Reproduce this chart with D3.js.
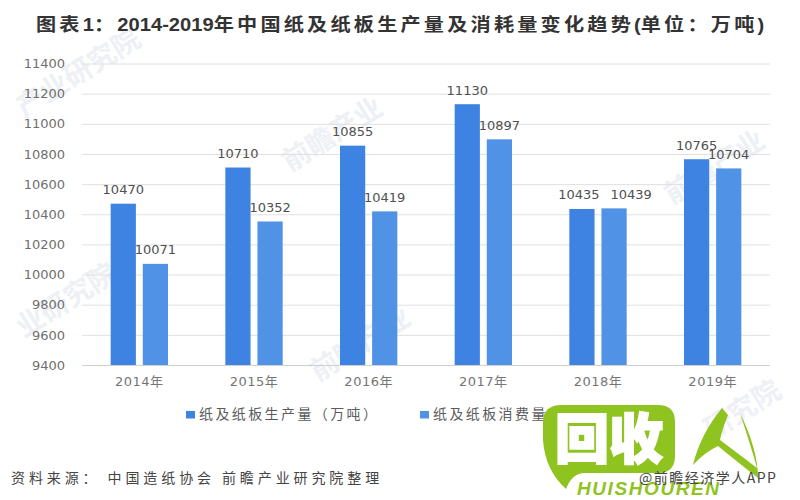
<!DOCTYPE html>
<html>
<head>
<meta charset="utf-8">
<script src="https://cdn.jsdelivr.net/npm/d3@7"></script>
<style>
  html, body { margin: 0; padding: 0; background: #fff; }
  text { font-family: "DejaVu Sans", "Noto Sans CJK SC", sans-serif; }
  .cjk { font-family: "Noto Sans CJK SC", sans-serif; }
</style>
</head>
<body>
<div id="chart"></div>
<script>
// chart values
var years = ["2014年", "2015年", "2016年", "2017年", "2018年", "2019年"];
var production = [10470, 10710, 10855, 11130, 10435, 10765];
var consumption = [10071, 10352, 10419, 10897, 10439, 10704];
var yTicks = [9400, 9600, 9800, 10000, 10200, 10400, 10600, 10800, 11000, 11200, 11400];
var seriesNames = ["纸及纸板生产量（万吨）", "纸及纸板消费量（万吨）"];
var seriesColors = ["#3f83e2", "#5093e6"];
var titleParts = ["图表", "1", "：", "2014-2019", "年中国纸及纸板生产量及消耗量变化趋势", "(", "单位：万吨", ")"];
var sourceText = "资料来源： 中国造纸协会 前瞻产业研究院整理";
var creditText = "@前瞻经济学人APP";
var watermarks = ["产业研究院", "前瞻产业", "前瞻产业", "业研究院", "前瞻产业", "研究院"];

var margin = { top: 63.5, right: 30, bottom: 135, left: 82 },
  width = 800 - margin.left - margin.right,
  height = 500 - margin.top - margin.bottom;

var svg = d3.select("#chart")
  .append("svg")
  .attr("width", 800)
  .attr("height", 500)
  .style("display", "block");

// faint watermarks behind the chart
var markPos = [[24, 118], [290, 172], [672, 205], [24, 338], [318, 382], [712, 440]];
svg.append("g")
  .selectAll("text")
  .data(watermarks)
  .enter().append("text")
  .attr("class", "cjk")
  .attr("transform", function (d, i) { return "translate(" + markPos[i] + ") rotate(-32)"; })
  .attr("font-size", 28)
  .attr("font-weight", "bold")
  .attr("fill", "#edf0f4")
  .text(function (d) { return d; });

var chart = svg.append("g")
  .attr("transform", "translate(" + margin.left + "," + margin.top + ")");

var x0 = d3.scaleBand().domain(years).range([0, width]).paddingInner(0.5).paddingOuter(0.25);
var x1 = d3.scaleBand().domain([0, 1]).range([0, x0.bandwidth()]).paddingInner(0.215);
var y = d3.scaleLinear().domain([9400, 11400]).range([height, 0]);

// Y axis with gridlines
var yAxis = chart.append("g")
  .call(d3.axisLeft(y).tickValues(yTicks).tickSize(-width).tickFormat(d3.format("d")).tickPadding(17));
yAxis.select(".domain").remove();
yAxis.selectAll("line").attr("stroke", function (d) { return d === 9400 ? "#d0d0d0" : "#e0e0e0"; }).attr("stroke-width", 1);
yAxis.selectAll("text").attr("font-size", 13).attr("fill", "#6f6f6f");

// X axis
var xAxis = chart.append("g")
  .attr("transform", "translate(0," + height + ")")
  .call(d3.axisBottom(x0).tickSize(0).tickPadding(12));
xAxis.select(".domain").remove();
xAxis.selectAll("text").attr("font-size", 13).attr("fill", "#757575").attr("letter-spacing", 0.5);

// the 2018 labels are pushed apart in the original so they do not collide
function labelNudge(v) {
  if (v === 10435) return -3;
  if (v === 10439) return 17;
  return 0;
}

// Bars and value labels
[production, consumption].forEach(function (values, s) {
  chart.append("g").selectAll("rect")
    .data(values)
    .enter().append("rect")
    .attr("x", function (d, i) { return x0(years[i]) + x1(s); })
    .attr("y", function (d) { return y(d); })
    .attr("width", x1.bandwidth())
    .attr("height", function (d) { return height - y(d); })
    .attr("fill", seriesColors[s]);

  chart.append("g").selectAll("text")
    .data(values)
    .enter().append("text")
    .attr("x", function (d, i) { return x0(years[i]) + x1(s) + x1.bandwidth() / 2 + labelNudge(d); })
    .attr("y", function (d) { return y(d) - 9.5; })
    .attr("text-anchor", "middle")
    .attr("font-size", 13)
    .attr("fill", "#505050")
    .text(function (d) { return d; });
});

// Title, widened like the original and with the Chinese spaced out
var title = svg.append("text")
  .attr("transform", "translate(36,31) scale(1.12,1)")
  .attr("font-size", 18)
  .attr("font-weight", "bold")
  .attr("fill", "#333");
title.selectAll("tspan")
  .data(titleParts)
  .enter().append("tspan")
  .attr("font-family", function (d) { return /[0-9(),-]/.test(d) ? "Liberation Sans" : "Noto Sans CJK SC"; })
  .attr("letter-spacing", function (d) { return /[0-9(),-]/.test(d) ? 0 : 2.85; })
  .text(function (d) { return d; });

// Legend
var legendX = [186, 420];
var legend = svg.append("g").selectAll("g")
  .data(seriesNames)
  .enter().append("g")
  .attr("transform", function (d, i) { return "translate(" + legendX[i] + ",411)"; });
legend.append("rect")
  .attr("width", 9).attr("height", 7.5)
  .attr("fill", function (d, i) { return seriesColors[i]; });
legend.append("text")
  .attr("class", "cjk")
  .attr("x", 13).attr("y", 8)
  .attr("font-size", 14)
  .attr("letter-spacing", 2.4)
  .attr("fill", "#5c5c5c")
  .text(function (d) { return d; });

// Source line
svg.append("text")
  .attr("class", "cjk")
  .attr("x", 11)
  .attr("y", 483)
  .attr("font-size", 14)
  .attr("fill", "#444")
  .attr("letter-spacing", 3.9)
  .text(sourceText);

// Green logo overlay
var logo = svg.append("g");
logo.append("path")
  .attr("d", "M 562 405 H 658 Q 675 405 675 422 V 456 Q 675 473 658 473 H 585 Q 572 473 566 489 Q 545 470 543 440 V 422 Q 543 405 562 405 Z")
  .attr("fill", "#8fc31f");
logo.append("text")
  .attr("class", "cjk")
  .attr("x", 555).attr("y", 459)
  .attr("font-size", 54)
  .attr("font-weight", "900")
  .attr("stroke", "#fff")
  .attr("stroke-width", 2)
  .attr("fill", "#fff")
  .text("回收");
logo.append("text")
  .attr("x", 577).attr("y", 495)
  .attr("font-size", 19)
  .attr("font-weight", "900")
  .attr("font-style", "italic")
  .attr("fill", "#8fc31f")
  .attr("textLength", 142)
  .style("font-family", "Liberation Sans")
  .text("HUISHOUREN");
logo.append("path")
  .attr("d", "M 693 465 Q 700 435 722 408 L 728 415 Q 722 430 720 440 Q 740 455 757 468 Q 752 450 740 413 Q 758 450 758 478 Q 735 460 718 446 Q 705 452 693 465 Z")
  .attr("fill", "#8fc31f");

svg.append("text")
  .attr("class", "cjk")
  .attr("x", 639)
  .attr("y", 483)
  .attr("font-size", 14)
  .attr("letter-spacing", 1.5)
  .attr("fill", "#444")
  .text(creditText);
</script>
</body>
</html>
